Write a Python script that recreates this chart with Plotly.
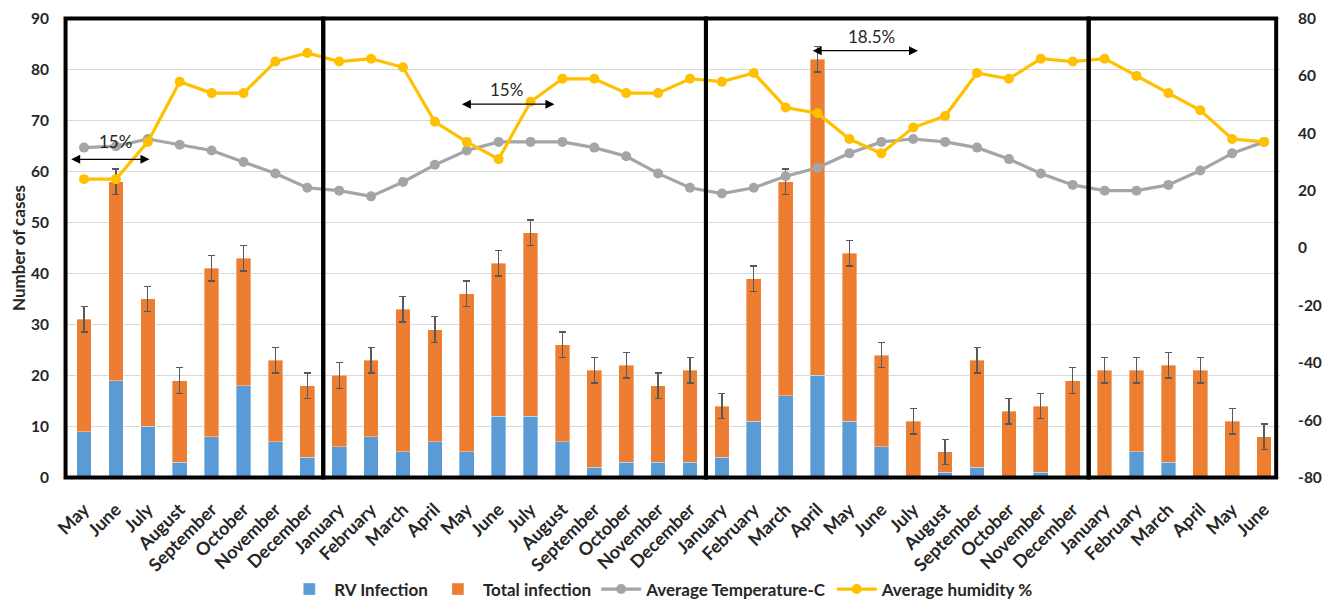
import plotly.graph_objects as go

# ---------------- data ----------------
year1_months = ["May", "June", "July", "August", "September", "October", "November", "December"]
full_year = ["January", "February", "March", "April", "May", "June", "July", "August",
             "September", "October", "November", "December"]
year4_months = ["January", "February", "March", "April", "May", "June"]
tick_labels = year1_months + full_year + full_year + year4_months

rv_infection = [9, 19, 10, 3, 8, 18, 7, 4,
                6, 8, 5, 7, 5, 12, 12, 7, 2, 3, 3, 3,
                4, 11, 16, 20, 11, 6, 0, 1, 2, 0, 1, 0,
                0, 5, 3, 0, 0, 0]
total_infection = [31, 58, 35, 19, 41, 43, 23, 18,
                   20, 23, 33, 29, 36, 42, 48, 26, 21, 22, 18, 21,
                   14, 39, 58, 82, 44, 24, 11, 5, 23, 13, 14, 19,
                   21, 21, 22, 21, 11, 8]
error_total = [2.5, 2.5, 2.5, 2.5, 2.5, 2.5, 2.5, 2.5,
               2.5, 2.5, 2.5, 2.5, 2.5, 2.5, 2.5, 2.5, 2.5, 2.5, 2.5, 2.5,
               2.5, 2.5, 2.5, 2.5, 2.5, 2.5, 2.5, 2.5, 2.5, 2.5, 2.5, 2.5,
               2.5, 2.5, 2.5, 2.5, 2.5, 2.5]
avg_temperature = [35, 35.5, 38, 36, 34, 30, 26, 21,
                   20, 18, 23, 29, 34, 37, 37, 37, 35, 32, 26, 21,
                   19, 21, 25, 28, 33, 37, 38, 37, 35, 31, 26, 22,
                   20, 20, 22, 27, 33, 37]
avg_humidity = [24, 24, 37, 58, 54, 54, 65, 68,
                65, 66, 63, 44, 37, 31, 51, 59, 59, 54, 54, 59,
                58, 61, 49, 47, 38, 33, 42, 46, 61, 59, 66, 65,
                66, 60, 54, 48, 38, 37]

left_ticks = [0, 10, 20, 30, 40, 50, 60, 70, 80, 90]
right_ticks = [-80, -60, -40, -20, 0, 20, 40, 60, 80]
right_tick_text = ["-80", "-60", "-40", "-20", "0", "20", "40", "60", "80"]

year_boundaries = [7.5, 19.5, 31.5]
arrow_notes = [  # (text, x_start, x_end, y_arrow, x_text, y_text)
    ("15%", -0.45, 2.05, 62.4, 1.0, 65.8),
    ("15%", 11.8, 14.75, 73.2, 13.25, 76.0),
    ("18.5%", 22.8, 26.15, 83.7, 24.7, 86.4),
]

# ---------------- figure ----------------
x_idx = list(range(len(tick_labels)))
orange_part = [t - r for t, r in zip(total_infection, rv_infection)]

BLUE = "#5B9BD5"
ORANGE = "#ED7D31"
GRAY = "#A5A5A5"
GOLD = "#FFC000"
TXT = "#262626"
FONT = "Lato"

fig = go.Figure()
fig.add_trace(go.Bar(x=x_idx, y=rv_infection, name="RV Infection",
                     marker=dict(color=BLUE, line=dict(width=0.6, color="rgba(255,255,255,0.6)"))))
fig.add_trace(go.Bar(x=x_idx, y=orange_part, name="Total infection",
                     marker=dict(color=ORANGE, line=dict(width=0.6, color="rgba(255,255,255,0.6)")),
                     error_y=dict(type="data", array=error_total, visible=True,
                                  color="#595959", thickness=1.3, width=3.5)))
fig.add_trace(go.Scatter(x=x_idx, y=avg_temperature, name="Average Temperature-C",
                         mode="lines+markers", yaxis="y2",
                         line=dict(color=GRAY, width=3.2),
                         marker=dict(color=GRAY, size=10)))
fig.add_trace(go.Scatter(x=x_idx, y=avg_humidity, name="Average humidity %",
                         mode="lines+markers", yaxis="y2",
                         line=dict(color=GOLD, width=3.2),
                         marker=dict(color=GOLD, size=10)))

# year boxes
edges = [-0.58] + year_boundaries + [37.38]
for i in range(len(edges) - 1):
    fig.add_shape(type="rect", xref="x", yref="y", x0=edges[i], x1=edges[i + 1], y0=0, y1=90,
                  line=dict(color="black", width=4), layer="above")

for text, xs, xe, ya, xt, yt in arrow_notes:
    fig.add_annotation(x=xe, y=ya, ax=xs, ay=ya, xref="x", yref="y", axref="x", ayref="y",
                       text="", showarrow=True, arrowhead=2, arrowside="end+start",
                       arrowsize=1.5, arrowwidth=1.2, arrowcolor="black")
    fig.add_annotation(x=xt, y=yt, xref="x", yref="y", text=text, showarrow=False,
                       font=dict(family=FONT, size=17, color=TXT))

# the page body adds an 8px offset, so the figure is 8px smaller on each axis
fig.update_layout(
    width=1324, height=597,
    margin=dict(l=55, r=52, t=8, b=124.5, autoexpand=False),
    paper_bgcolor="white", plot_bgcolor="white",
    barmode="stack", bargap=0.54,
    font=dict(family=FONT, size=15, color=TXT),
    showlegend=True,
    legend=dict(orientation="h", x=0.4916, xanchor="center", y=-0.236, yanchor="middle",
                traceorder="normal", font=dict(family=FONT, size=17, color=TXT, weight="bold"),
                itemwidth=40),
    xaxis=dict(range=[-0.66, 37.5], tickmode="array", tickvals=x_idx, ticktext=tick_labels,
               tickangle=-45, showgrid=False, zeroline=False, showline=False, automargin=False,
               ticks="outside", ticklen=11, tickcolor="rgba(0,0,0,0)",
               tickfont=dict(family=FONT, size=18, color=TXT, weight="bold")),
    yaxis=dict(range=[-0.5, 90.5], tickmode="array", tickvals=left_ticks,
               showgrid=True, gridcolor="#D9D9D9", gridwidth=1.3, zeroline=False, showline=False,
               automargin=False, ticklabeloverflow="allow",
               ticks="outside", ticklen=10, tickcolor="rgba(0,0,0,0)",
               tickfont=dict(family=FONT, size=15.5, color=TXT, weight="bold"),
               title=dict(text="Number of cases", standoff=8,
                          font=dict(family=FONT, size=17, color=TXT, weight="bold"))),
    yaxis2=dict(range=[-80.889, 80.889], overlaying="y", side="right", tickmode="array",
                tickvals=right_ticks, ticktext=right_tick_text,
                showgrid=False, zeroline=False, showline=False, automargin=False,
                ticklabeloverflow="allow",
                ticks="outside", ticklen=14, tickcolor="rgba(0,0,0,0)",
                tickfont=dict(family=FONT, size=15.5, color=TXT, weight="bold")),
)

fig.write_html("out.html")
